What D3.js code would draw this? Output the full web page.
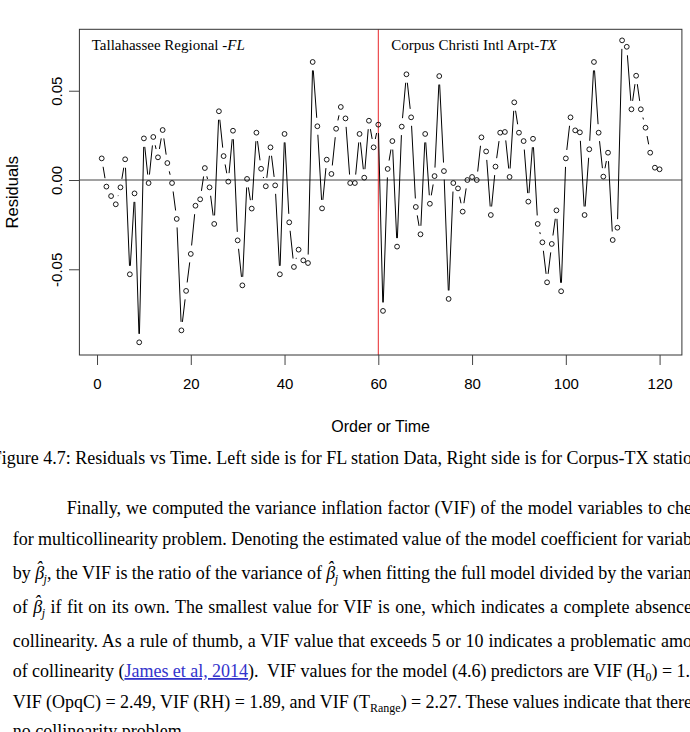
<!DOCTYPE html>
<html>
<head>
<meta charset="utf-8">
<script src="https://cdn.jsdelivr.net/npm/d3@7"></script>
<style>
  html, body { margin: 0; padding: 0; background: #fff; }
  svg { display: block; }
</style>
</head>
<body>
<svg id="chart" width="690" height="732"></svg>
<script>
// ---------------- data ----------------
const residuals = [
  0.0121, -0.0037, -0.0090, -0.0136, -0.0041, 0.0116, -0.0528, -0.0075, -0.0909, 0.0233,
  -0.0017, 0.0241, 0.0127, 0.0280, 0.0095, -0.0017, -0.0218, -0.0842, -0.0621, -0.0414,
  -0.0144, -0.0108, 0.0067, -0.0041, -0.0246, 0.0385, 0.0134, -0.0009, 0.0276, -0.0338,
  -0.0590, 0.0006, -0.0160, 0.0265, 0.0063, -0.0035, 0.0183, -0.0030, -0.0528, 0.0258,
  -0.0237, -0.0487, -0.0390, -0.0450, -0.0465, 0.0661, 0.0301, -0.0159, 0.0114, 0.0034,
  0.0287, 0.0409, 0.0345, -0.0017, -0.0017, 0.0258, 0.0013, 0.0332, 0.0183, 0.0310,
  -0.0733, 0.0062, 0.0218, -0.0373, 0.0299, 0.0592, 0.0351, -0.0151, -0.0304, 0.0258,
  -0.0133, 0.0022, 0.0582, 0.0050, -0.0666, -0.0017, -0.0047, -0.0177, 0.0000, 0.0017,
  0.0000, 0.0239, 0.0160, -0.0196, 0.0075, 0.0265, 0.0269, 0.0017, 0.0435, 0.0265,
  0.0218, -0.0121, 0.0231, -0.0246, -0.0349, -0.0573, -0.0358, -0.0170, -0.0623, 0.0121,
  0.0351, 0.0278, 0.0267, -0.0196, 0.0172, 0.0661, 0.0265, 0.0019, 0.0153, -0.0336,
  -0.0267, 0.0782, 0.0746, 0.0396, 0.0584, 0.0396, 0.0293, 0.0153, 0.0069, 0.0060
];
const xTicks = [0, 20, 40, 60, 80, 100, 120];
const yTicks = [-0.05, 0.00, 0.05];
const stationSplit = 60;
const stationLeft = ["Tallahassee Regional -", "FL"];
const stationRight = ["Corpus Christi Intl Arpt-", "TX"];
const xLabel = "Order or Time";
const yLabel = "Residuals";
const caption = "Figure 4.7: Residuals vs Time. Left side is for FL station Data, Right side is for Corpus-TX station";

// ---------------- layout ----------------
const svg = d3.select("#chart");
const pLeft = 79.4, pRight = 681.9, pTop = 29.3, pBottom = 355;
const n = residuals.length;
const x = d3.scaleLinear().domain([-3.76, 124.76]).range([pLeft, pRight]);
const y = d3.scaleLinear().domain([-0.0980, 0.0844]).range([pBottom, pTop]);
const sans = "'Liberation Sans', Arial, sans-serif";
const serif = "'Liberation Serif', 'Times New Roman', serif";

svg.append("rect").attr("width", 690).attr("height", 732).attr("fill", "#fff");

// zero line
svg.append("line")
  .attr("x1", pLeft).attr("x2", pRight)
  .attr("y1", y(0)).attr("y2", y(0))
  .attr("stroke", "#444").attr("stroke-width", 1);

// station divider
svg.append("line")
  .attr("x1", x(stationSplit)).attr("x2", x(stationSplit))
  .attr("y1", pTop).attr("y2", pBottom)
  .attr("stroke", "#e8262a").attr("stroke-width", 1);

// plot box
svg.append("rect")
  .attr("x", pLeft).attr("y", pTop)
  .attr("width", pRight - pLeft).attr("height", pBottom - pTop)
  .attr("fill", "none").attr("stroke", "#333").attr("stroke-width", 1);

// x axis
const xAxis = d3.axisBottom(x).tickValues(xTicks).tickSize(10).tickPadding(13).tickFormat(d3.format("d"));
const gx = svg.append("g").attr("transform", `translate(0,${pBottom})`).call(xAxis);
gx.select(".domain").remove();
gx.selectAll("line").attr("stroke", "#444");
gx.selectAll("text").attr("font-family", sans).attr("font-size", 15).attr("fill", "#000");

// y axis
const fmtY = d3.formatLocale({ decimal: ".", thousands: ",", grouping: [3], currency: ["", ""], minus: "-" }).format(".2f");
const yAxis = d3.axisLeft(y).tickValues(yTicks).tickSize(10.4).tickPadding(0).tickFormat(fmtY);
const gy = svg.append("g").attr("transform", `translate(${pLeft},0)`).call(yAxis);
gy.select(".domain").remove();
gy.selectAll("line").attr("stroke", "#444");
gy.selectAll("text")
  .attr("font-family", sans).attr("font-size", 15).attr("fill", "#000")
  .attr("x", 0).attr("y", 0).attr("dy", null)
  .attr("text-anchor", "middle")
  .attr("transform", `translate(${61.5 - pLeft},0) rotate(-90)`);

// axis titles
svg.append("text")
  .attr("x", (pLeft + pRight) / 2).attr("y", 432)
  .attr("text-anchor", "middle")
  .attr("font-family", sans).attr("font-size", 16).attr("fill", "#000")
  .text(xLabel);
svg.append("text")
  .attr("transform", `translate(18,${(pTop + pBottom) / 2}) rotate(-90)`)
  .attr("text-anchor", "middle")
  .attr("font-family", sans).attr("font-size", 16.5).attr("fill", "#000")
  .text(yLabel);

// station labels
function stationText(xp, yp, parts) {
  const t = svg.append("text").attr("x", xp).attr("y", yp)
    .attr("font-family", serif).attr("font-size", 15).attr("fill", "#000");
  t.append("tspan").text(parts[0]);
  t.append("tspan").attr("font-style", "italic").text(parts[1]);
}
stationText(91.7, 49.5, stationLeft);
stationText(391.3, 49.5, stationRight);

// series: type "b" lines (gapped) + open circles
const pts = residuals.map((v, i) => [x(i + 1), y(v)]);
const gap = 8.5;
const segs = [];
for (let i = 0; i < n - 1; i++) {
  const [x1, y1] = pts[i], [x2, y2] = pts[i + 1];
  const dx = x2 - x1, dy = y2 - y1, d = Math.hypot(dx, dy);
  if (d > 2 * gap) {
    const ux = dx / d, uy = dy / d;
    segs.push([x1 + ux * gap, y1 + uy * gap, x2 - ux * gap, y2 - uy * gap]);
  }
}
svg.append("g").selectAll("line").data(segs).join("line")
  .attr("x1", d => d[0]).attr("y1", d => d[1])
  .attr("x2", d => d[2]).attr("y2", d => d[3])
  .attr("stroke", "#000").attr("stroke-width", 1);

svg.append("g").selectAll("circle").data(residuals).join("circle")
  .attr("cx", (d, i) => x(i + 1)).attr("cy", d => y(d))
  .attr("r", 2.4)
  .attr("fill", "none").attr("stroke", "#000").attr("stroke-width", 0.9);

// ---------------- document text below ----------------
svg.append("text")
  .attr("x", -8.3).attr("y", 464)
  .attr("font-family", serif).attr("font-size", 18).attr("fill", "#000")
  .text(caption);

// beta-hat-j helper segments
const BH = [["\u03B2", "it"], ["\u02C6", "hat"], ["j", "subit"]];
const paraLines = [
  { x: 66.7, y: 514, end: 692, segs: [["Finally, we computed the variance inflation factor (VIF) of the model variables to che"]] },
  { x: 12.7, y: 545, end: 692, segs: [["for multicollinearity problem. Denoting the estimated value of the model coefficient for variab"]] },
  { x: 12.7, y: 579, end: 692, segs: [["by "], ...BH, [", the VIF is the ratio of the variance of "], ...BH, [" when fitting the full model divided by the varian"]] },
  { x: 12.7, y: 613, end: 692, segs: [["of "], ...BH, [" if fit on its own. The smallest value for VIF is one, which indicates a complete absence"]] },
  { x: 12.7, y: 647, end: 692, segs: [["collinearity. As a rule of thumb, a VIF value that exceeds 5 or 10 indicates a problematic amo"]] },
  { x: 12.7, y: 677, end: 690, segs: [["of collinearity ("], ["James et al, 2014", "link"], [").  VIF values for the model (4.6) predictors are VIF (H"], ["0", "sub"], [") = 1."]] },
  { x: 12.7, y: 708, end: 692, segs: [["VIF (OpqC) = 2.49, VIF (RH) = 1.89, and VIF (T"], ["Range", "sub"], [") = 2.27. These values indicate that there"]] },
  { x: 12.7, y: 737, end: null, segs: [["no collinearity problem."]] }
];

paraLines.forEach(line => {
  const t = svg.append("text")
    .attr("x", line.x).attr("y", line.y)
    .attr("font-family", serif).attr("font-size", 18).attr("fill", "#000")
    .style("white-space", "pre");
  let cur = 0;
  let prevKind = null;
  line.segs.forEach(([str, kind]) => {
    const ts = t.append("tspan").text(str);
    let want = 0;
    if (kind === "sub" || kind === "subit") want = 4;
    if (kind === "hat") want = -5;
    if (want !== cur) { ts.attr("dy", want - cur); cur = want; }
    if (kind === "sub" || kind === "subit") ts.attr("font-size", 12);
    if (kind === "it" || kind === "subit" || kind === "hat") ts.attr("font-style", "italic");
    if (kind === "hat") ts.attr("dx", -8);
    if (kind === "subit" && prevKind === "hat") ts.attr("dx", 1.5);
    if (kind === "link") ts.attr("fill", "#3333cc").attr("text-decoration", "underline");
    prevKind = kind;
  });
  if (line.end) {
    const full = line.segs.map(s => s[0]).join("");
    const spaces = (full.match(/ /g) || []).length;
    // iterate to land the last visible glyph at the page edge (justified text)
    let ws = 0;
    for (let k = 0; k < 3; k++) {
      t.attr("word-spacing", ws.toFixed(3));
      const bb = t.node().getBBox();
      ws += (line.end - (bb.x + bb.width)) / spaces;
    }
    t.attr("word-spacing", ws.toFixed(3));
  }
});
</script>
</body>
</html>
